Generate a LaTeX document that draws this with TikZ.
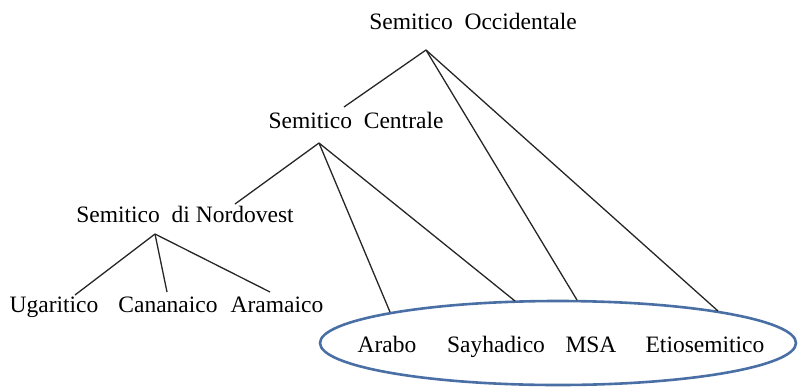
\documentclass[tikz,border=0pt]{standalone}
\usepackage{fontspec}
\setmainfont{Liberation Serif}
\definecolor{ellblue}{HTML}{4A6FA5}
\begin{document}
\begin{tikzpicture}[x=1pt,y=-1pt,
  lbl/.style={inner sep=0pt,anchor=base,font=\fontsize{23.5}{26}\selectfont},
  edge/.style={draw=black!85,line width=1.3pt}]
\useasboundingbox (0,0) rectangle (798,389);
% labels
\node[lbl] (so) at (473,29) {Semitico\ \ Occidentale};
\node[lbl] (sc) at (356,128) {Semitico\ \ Centrale};
\node[lbl] (sn) at (185,222) {Semitico\ \ di Nordovest};
\node[lbl] (ug) at (54,312) {Ugaritico};
\node[lbl] (ca) at (168,312) {Cananaico};
\node[lbl] (ar) at (277,312) {Aramaico};
\node[lbl] (arabo) at (387,352) {Arabo};
\node[lbl] (say) at (496,352) {Sayhadico};
\node[lbl] (msa) at (591,352) {MSA};
\node[lbl] (eti) at (705,352) {Etiosemitico};
% ellipse
\draw[ellblue,line width=2.6pt] (558,343) ellipse [x radius=238, y radius=42];
% branch points
\coordinate (soA) at (426,50);
\coordinate (scA) at (319,143);
\coordinate (snA) at (155,234);
\coordinate (scT) at (344,107);
\coordinate (snT) at (235,204);
\coordinate (ugT) at (75,295);
\coordinate (caT) at (167,292);
\coordinate (arT) at (270,292);
\coordinate (araboT) at (390,312);
\coordinate (sayT) at (515,301);
\coordinate (msaT) at (577,300);
\coordinate (etiT) at (718,311);
% edges
\draw[edge] (soA) -- (scT);
\draw[edge] (soA) -- (msaT);
\draw[edge] (soA) -- (etiT);
\draw[edge] (scA) -- (snT);
\draw[edge] (scA) -- (araboT);
\draw[edge] (scA) -- (sayT);
\draw[edge] (snA) -- (ugT);
\draw[edge] (snA) -- (caT);
\draw[edge] (snA) -- (arT);
\end{tikzpicture}
\end{document}
